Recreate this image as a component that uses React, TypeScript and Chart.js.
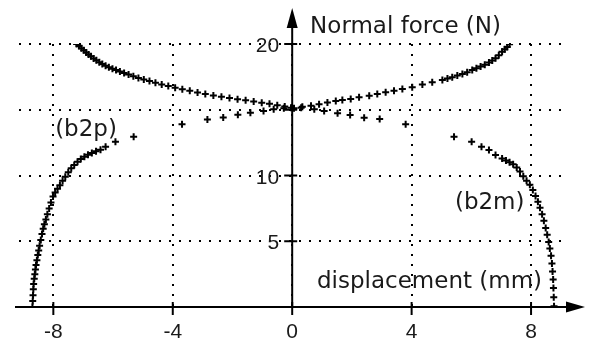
import React, { useEffect, useRef } from 'react';
import { Chart, registerables } from 'chart.js';

Chart.register(...registerables);

// ---- data ----
const xTickValues = [-8, -4, 0, 4, 8];
const yHiddenLabels = [0, 15];

// upper-left branch (dense)
const upperLeftX = [-7.22, -7.14, -7.06, -6.98, -6.90, -6.82, -6.74, -6.65, -6.56, -6.46, -6.36, -6.25, -6.14, -6.02, -5.90, -5.77, -5.63, -5.48, -5.32, -5.15, -4.97, -4.78, -4.58, -4.37, -4.15, -3.92, -3.68, -3.43, -3.17, -2.91, -2.64, -2.37, -2.10, -1.83, -1.56, -1.29, -1.02, -0.76, -0.50, -0.25, -0.04];
const upperLeftY = [20.0, 19.84, 19.68, 19.52, 19.36, 19.2, 19.06, 18.9, 18.76, 18.62, 18.48, 18.35, 18.23, 18.12, 18.02, 17.91, 17.8, 17.68, 17.55, 17.42, 17.3, 17.18, 17.05, 16.92, 16.8, 16.68, 16.56, 16.44, 16.32, 16.2, 16.09, 15.99, 15.89, 15.8, 15.72, 15.63, 15.54, 15.45, 15.35, 15.25, 15.15];

// upper-right branch (dense)
const upperRightX = [0.06, 0.34, 0.63, 0.90, 1.18, 1.46, 1.68, 1.96, 2.24, 2.58, 2.85, 3.13, 3.41, 3.69, 4.02, 4.36, 4.69, 5.03, 5.20, 5.36, 5.53, 5.70, 5.86, 6.03, 6.17, 6.31, 6.45, 6.59, 6.70, 6.81, 6.92, 7.03, 7.12, 7.20, 7.28];
const upperRightY = [15.12, 15.23, 15.31, 15.41, 15.55, 15.67, 15.74, 15.82, 15.95, 16.07, 16.2, 16.33, 16.45, 16.58, 16.71, 16.92, 17.1, 17.27, 17.37, 17.47, 17.6, 17.72, 17.86, 18.03, 18.16, 18.28, 18.42, 18.59, 18.75, 18.92, 19.15, 19.42, 19.6, 19.78, 19.98];

// lower-left branch (b2p)
const b2pX = [-8.70, -8.69, -8.68, -8.67, -8.66, -8.64, -8.62, -8.60, -8.58, -8.55, -8.52, -8.49, -8.46, -8.42, -8.38, -8.34, -8.30, -8.25, -8.20, -8.14, -8.08, -8.01, -7.94, -7.86, -7.78, -7.69, -7.60, -7.50, -7.40, -7.30, -7.19, -7.08, -6.96, -6.84, -6.71, -6.57, -6.42, -6.25, -5.92, -5.31, -3.69, -2.84, -2.31, -1.82, -1.40, -0.96, -0.62, -0.28];
const b2pY = [0.0, 0.45, 0.9, 1.35, 1.75, 2.15, 2.5, 2.85, 3.2, 3.55, 3.95, 4.3, 4.65, 5.1, 5.55, 5.95, 6.3, 6.65, 7.05, 7.5, 7.95, 8.4, 8.7, 9.0, 9.25, 9.6, 9.9, 10.25, 10.55, 10.8, 11.05, 11.25, 11.42, 11.58, 11.72, 11.84, 11.95, 12.19, 12.57, 12.95, 13.9, 14.25, 14.42, 14.62, 14.77, 14.9, 15.04, 15.12];

// lower-right branch (b2m)
const b2mX = [0.30, 0.74, 1.07, 1.52, 1.94, 2.41, 2.93, 3.80, 5.42, 6.01, 6.34, 6.59, 6.81, 7.03, 7.16, 7.28, 7.40, 7.52, 7.63, 7.74, 7.85, 7.96, 8.06, 8.15, 8.23, 8.30, 8.37, 8.43, 8.49, 8.54, 8.59, 8.63, 8.67, 8.70, 8.72, 8.74, 8.75, 8.76, 8.77];
const b2mY = [15.15, 15.03, 14.9, 14.73, 14.6, 14.4, 14.3, 13.89, 12.95, 12.57, 12.19, 11.93, 11.55, 11.3, 11.15, 11.0, 10.85, 10.6, 10.3, 9.95, 9.6, 9.3, 8.9, 8.45, 8.0, 7.55, 7.06, 6.55, 6.0, 5.5, 4.95, 4.45, 3.9, 3.3, 2.7, 2.1, 1.45, 0.75, 0.05];

const yAxisTitle = 'Normal force (N)';
const xAxisTitle = 'displacement (mm)';
const curveLabels = ['(b2p)', '(b2m)'];

const INK = '#1a1a1a';
const LABEL_FONT = "23px 'DejaVu Sans', sans-serif";
const TICK_FONT = "21px 'Liberation Sans', 'DejaVu Sans', sans-serif";

export default function App() {
  const ref = useRef<HTMLCanvasElement | null>(null);

  useEffect(() => {
    document.body.style.margin = '0';
    const canvas = ref.current;
    if (!canvas) return;

    const pts = (xs: number[], ys: number[]) => xs.map((x, i) => ({ x, y: ys[i] }));
    const mk = (label: string, xs: number[], ys: number[]) => ({
      label,
      data: pts(xs, ys),
      showLine: false,
      pointStyle: 'cross' as const,
      pointRadius: 3.5,
      pointBorderWidth: 2,
      pointBorderColor: '#000',
      pointBackgroundColor: '#000',
      borderColor: '#000',
      backgroundColor: '#000',
    });

    const decor = {
      id: 'decor',
      beforeDatasetsDraw(chart: any) {
        const { ctx, chartArea, scales } = chart;
        const sx = scales.x;
        const sy = scales.y;
        const x0 = sx.getPixelForValue(0);
        const y0 = sy.getPixelForValue(0);
        ctx.save();
        ctx.strokeStyle = '#000';
        ctx.fillStyle = '#000';
        ctx.lineWidth = 2;
        // x axis line + arrow
        const xEnd = chartArea.right + 22;
        ctx.beginPath();
        ctx.moveTo(chartArea.left - 4, y0);
        ctx.lineTo(xEnd - 10, y0);
        ctx.stroke();
        ctx.beginPath();
        ctx.moveTo(xEnd, y0);
        ctx.lineTo(xEnd - 19, y0 - 5.5);
        ctx.lineTo(xEnd - 19, y0 + 5.5);
        ctx.closePath();
        ctx.fill();
        // y axis line + arrow
        const yEnd = chartArea.top - 36;
        ctx.beginPath();
        ctx.moveTo(x0, y0 + 1);
        ctx.lineTo(x0, yEnd + 10);
        ctx.stroke();
        ctx.beginPath();
        ctx.moveTo(x0, yEnd);
        ctx.lineTo(x0 - 5.5, yEnd + 20);
        ctx.lineTo(x0 + 5.5, yEnd + 20);
        ctx.closePath();
        ctx.fill();
        // tick marks
        sx.ticks.forEach((t: any) => {
          const p = sx.getPixelForValue(t.value);
          ctx.beginPath();
          ctx.moveTo(p, y0 - 5);
          ctx.lineTo(p, y0 + 8);
          ctx.stroke();
        });
        sy.ticks.forEach((t: any) => {
          if (t.value === 0) return;
          const p = sy.getPixelForValue(t.value);
          ctx.beginPath();
          ctx.moveTo(x0 - 8, p);
          ctx.lineTo(x0 + 5, p);
          ctx.stroke();
        });
        // tick labels (from the library's ticks)
        ctx.fillStyle = INK;
        ctx.font = TICK_FONT;
        ctx.textBaseline = 'alphabetic';
        ctx.textAlign = 'center';
        sx.ticks.forEach((t: any) => {
          const p = sx.getPixelForValue(t.value);
          ctx.fillText(String(t.value), p, y0 + 31);
        });
        ctx.textAlign = 'right';
        sy.ticks.forEach((t: any) => {
          if (yHiddenLabels.includes(t.value)) return;
          const p = sy.getPixelForValue(t.value);
          ctx.fillText(String(t.value), x0 - 13, p + 8);
        });
        ctx.restore();
      },
      afterDraw(chart: any) {
        const { ctx, scales } = chart;
        const sx = scales.x;
        const sy = scales.y;
        ctx.save();
        ctx.fillStyle = INK;
        ctx.font = LABEL_FONT;
        ctx.textAlign = 'left';
        ctx.textBaseline = 'alphabetic';
        ctx.fillText(yAxisTitle, sx.getPixelForValue(0.6), sy.getPixelForValue(20.8));
        ctx.fillText(xAxisTitle, sx.getPixelForValue(0.83), sy.getPixelForValue(1.42));
        ctx.fillText(curveLabels[0], sx.getPixelForValue(-7.94), sy.getPixelForValue(13.0));
        ctx.fillText(curveLabels[1], sx.getPixelForValue(5.45), sy.getPixelForValue(7.44));
        ctx.restore();
      },
    };

    const gridOpts = { color: '#000', lineWidth: 2, drawTicks: false };
    const borderOpts = { display: false, dash: [2, 8] };

    const chart = new Chart(canvas, {
      type: 'scatter',
      data: {
        datasets: [
          mk('upper left', upperLeftX, upperLeftY),
          mk('upper right', upperRightX, upperRightY),
          mk('b2p', b2pX, b2pY),
          mk('b2m', b2mX, b2mY),
        ],
      },
      options: {
        animation: false,
        responsive: false,
        devicePixelRatio: 1,
        layout: { padding: { left: 19, right: 26, top: 44, bottom: 37 } },
        plugins: { legend: { display: false }, tooltip: { enabled: false } },
        scales: {
          x: {
            type: 'linear',
            position: { y: 0 } as any,
            min: -9.15,
            max: 9.07,
            afterBuildTicks: (scale: any) => {
              scale.ticks = xTickValues.map((v) => ({ value: v }));
            },
            border: borderOpts,
            grid: gridOpts,
            ticks: { display: false },
          },
          y: {
            type: 'linear',
            position: { x: 0 } as any,
            min: 0,
            max: 20,
            border: borderOpts,
            grid: gridOpts,
            ticks: { stepSize: 5, display: false },
          },
        },
      },
      plugins: [decor],
    } as any);

    return () => chart.destroy();
  }, []);

  return (
    <div style={{ position: 'absolute', left: 0, top: 0, width: 589, height: 344, background: '#fff' }}>
      <canvas ref={ref} width={589} height={344} style={{ width: 589, height: 344, display: 'block' }} />
    </div>
  );
}
